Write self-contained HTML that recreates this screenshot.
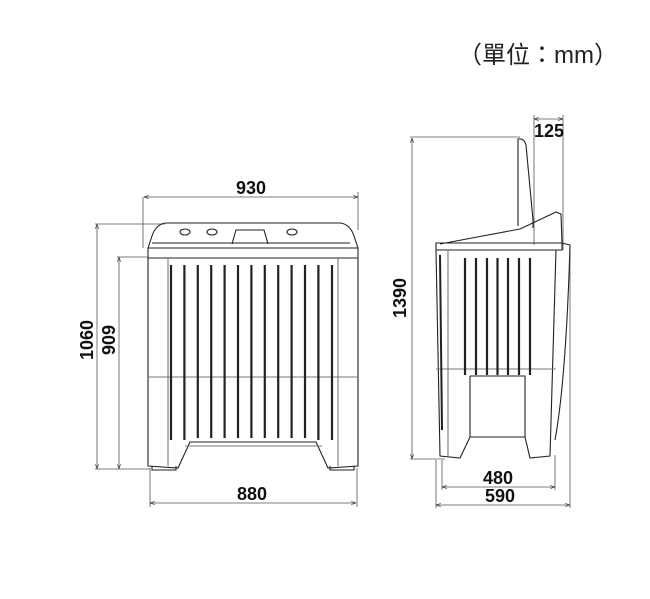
<!DOCTYPE html>
<html><head><meta charset="utf-8"><style>
html,body{margin:0;padding:0;background:#fff;}
svg{display:block}
.t{font-family:"Liberation Sans Narrow","Liberation Sans",sans-serif;font-stretch:condensed;font-weight:bold;font-size:18px;fill:#111}
</style></head><body>
<svg width="650" height="599" viewBox="0 0 650 599" xmlns="http://www.w3.org/2000/svg">
<defs><marker id="a" markerWidth="6" markerHeight="6" refX="6" refY="3" orient="auto-start-reverse"><path d="M0,1 L6,3 L0,5" fill="none" stroke="#333" stroke-width="0.8"/></marker></defs>
<text x="538" y="63" text-anchor="middle" font-family="'Liberation Sans','Noto Sans CJK TC',sans-serif" font-size="24" fill="#222">（單位：mm）</text>

<!-- FRONT VIEW -->
<g stroke="#555" stroke-width="0.8" fill="none">
<line x1="144" y1="197" x2="358" y2="197" marker-start="url(#a)" marker-end="url(#a)"/>
<line x1="143" y1="197" x2="143" y2="248"/><line x1="358" y1="192" x2="358" y2="230"/>
<line x1="97" y1="224" x2="97" y2="469" marker-start="url(#a)" marker-end="url(#a)"/>
<line x1="95" y1="224" x2="165" y2="224"/>
<line x1="119" y1="257" x2="119" y2="469" marker-start="url(#a)" marker-end="url(#a)"/>
<line x1="117" y1="257" x2="148" y2="257"/>
<line x1="95" y1="469" x2="150" y2="469"/>
<line x1="150" y1="503" x2="356" y2="503" marker-start="url(#a)" marker-end="url(#a)"/>
<line x1="150" y1="468" x2="150" y2="507"/><line x1="357" y1="468" x2="357" y2="507"/>
</g>
<g stroke="#222" stroke-width="1.1" fill="none">
<path d="M148,248 L152,236 Q156,224 166,223 L340,223 Q350,224 354,236 L358,248"/>
<path d="M152,243 L350,243"/>
<path d="M148,248 L358,248 L358,258 L148,258 Z"/>
<path d="M148,258 L148,466 L178,468 L190,442 L316,442 L328,468 L358,466 L358,258"/>
<path d="M148,377 L358,377" stroke="#777"/>
<path d="M168,258 L168,466 M338,258 L338,466" stroke="#777"/>
<path d="M185,446 L322,446" stroke="#777"/>
<path d="M232,244 L236,230 L264,230 L268,244" />
<ellipse cx="185" cy="232" rx="5" ry="3"/><ellipse cx="212" cy="232" rx="5" ry="3"/><ellipse cx="292" cy="232" rx="5" ry="3"/>
<path d="M152,466 L152,470 L176,470 L176,466 M330,466 L330,470 L354,470 L354,466"/>
</g>
<g stroke="#222" stroke-width="2.2">
<line x1="171" y1="265" x2="171" y2="440"/><line x1="184.4" y1="265" x2="184.4" y2="440"/><line x1="197.8" y1="265" x2="197.8" y2="438"/><line x1="211.2" y1="265" x2="211.2" y2="438"/><line x1="224.6" y1="265" x2="224.6" y2="438"/><line x1="238" y1="265" x2="238" y2="438"/><line x1="251.4" y1="265" x2="251.4" y2="438"/><line x1="264.8" y1="265" x2="264.8" y2="438"/><line x1="278.2" y1="265" x2="278.2" y2="438"/><line x1="291.6" y1="265" x2="291.6" y2="438"/><line x1="305" y1="265" x2="305" y2="438"/><line x1="318.4" y1="265" x2="318.4" y2="440"/><line x1="332" y1="265" x2="332" y2="440"/>
</g>
<text class="t" x="251" y="194" text-anchor="middle">930</text>
<text class="t" x="252" y="500" text-anchor="middle">880</text>
<text class="t" transform="translate(93,340) rotate(-90)" text-anchor="middle">1060</text>
<text class="t" transform="translate(115,340) rotate(-90)" text-anchor="middle">909</text>

<!-- SIDE VIEW -->
<g stroke="#555" stroke-width="0.8" fill="none">
<line x1="412" y1="138" x2="412" y2="459" marker-start="url(#a)" marker-end="url(#a)"/>
<line x1="410" y1="137" x2="520" y2="137"/><line x1="410" y1="459" x2="445" y2="459"/>
<line x1="534" y1="119" x2="563" y2="119" marker-start="url(#a)" marker-end="url(#a)"/>
<line x1="534" y1="115" x2="534" y2="245"/><line x1="563" y1="115" x2="563" y2="250"/>
<line x1="442" y1="487" x2="555" y2="487" marker-start="url(#a)" marker-end="url(#a)"/>
<line x1="442" y1="460" x2="442" y2="490"/><line x1="555" y1="455" x2="555" y2="490"/>
<line x1="436" y1="505" x2="570" y2="505" marker-start="url(#a)" marker-end="url(#a)"/>
<line x1="436" y1="460" x2="436" y2="508"/><line x1="570" y1="250" x2="570" y2="508"/>
</g>
<g stroke="#222" stroke-width="1.1" fill="none">
<path d="M518,226 L518,139 Q524,138 526,145 L533,220 L533,228"/>
<path d="M440,244 L520,229 L556,212 L561,214 L562,243"/>
<path d="M436,243 L562,243 L562,250 L436,250 Z"/>
<path d="M436,250 L440,456 L460,458 L470,437 L525,437 L530,458 L550,456 L556,250"/>
<path d="M562,243 L570,245 Q566,380 555,440" />
<path d="M436,369 L556,369" stroke="#777"/>
<path d="M470,376 L525,376 L525,437 M470,376 L470,437" />
<path d="M440,255 L442,430" stroke-width="2"/>
<path d="M448,250 L448,456" stroke="#777"/>
</g>
<g stroke="#222" stroke-width="2.2">
<line x1="465" y1="258" x2="465" y2="375"/><line x1="476" y1="258" x2="476" y2="375"/><line x1="487" y1="258" x2="487" y2="375"/><line x1="497.5" y1="258" x2="497.5" y2="375"/><line x1="508" y1="258" x2="508" y2="375"/><line x1="519" y1="258" x2="519" y2="375"/><line x1="530" y1="258" x2="530" y2="375"/>
</g>
<text class="t" x="549" y="137" text-anchor="middle">125</text>
<text class="t" x="498" y="484" text-anchor="middle">480</text>
<text class="t" x="500" y="502" text-anchor="middle">590</text>
<text class="t" transform="translate(406,298) rotate(-90)" text-anchor="middle">1390</text>
</svg>
</body></html>
